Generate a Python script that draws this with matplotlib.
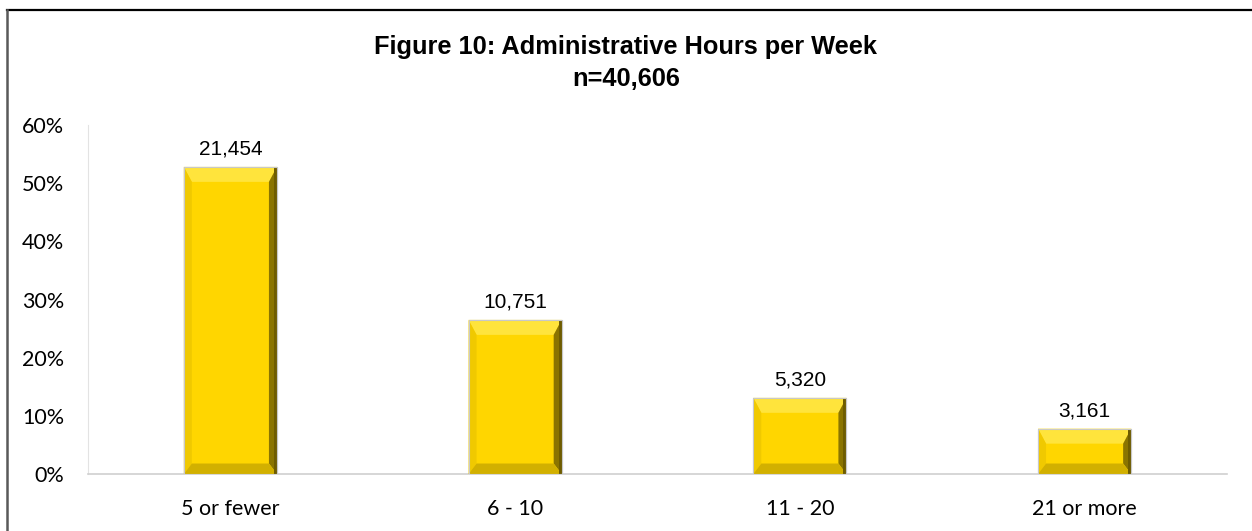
import numpy as np
import matplotlib.pyplot as plt
from matplotlib.patches import Polygon, Rectangle
from matplotlib.transforms import IdentityTransform

# --------------------------------------------------------------------------
# Data
# --------------------------------------------------------------------------
categories = ['5 or fewer', '6 - 10', '11 - 20', '21 or more']
counts = [21454, 10751, 5320, 3161]
shares = [52.8, 26.5, 13.1, 7.8]          # percent of respondents
yticks = [0, 10, 20, 30, 40, 50, 60]
title_line1 = 'Figure 10: Administrative Hours per Week'
title_line2 = 'n=40,606'

# --------------------------------------------------------------------------
# Figure
# --------------------------------------------------------------------------
fig = plt.figure(figsize=(12.52, 5.31), dpi=100)
ax = fig.add_axes([0.0703, 0.1073, 0.9097, 0.6573])

x = np.arange(len(categories))
bar_w = 0.327
face = '#FFD600'
bars = ax.bar(x, shares, width=bar_w, color=face, edgecolor='#C8C8C8',
              linewidth=0.8, zorder=2)

ax.set_xlim(-0.5, len(categories) - 0.5)
ax.set_ylim(0, 60)
ax.set_yticks(yticks)
ax.set_yticklabels([f'{t}%' for t in yticks], fontsize=15.5, family='Lato')
ax.set_xticks(x)
ax.set_xticklabels(categories, fontsize=15.5, family='Lato')
ax.tick_params(axis='y', length=0, pad=17)
ax.tick_params(axis='x', length=0, pad=18)
for s in ['top', 'right']:
    ax.spines[s].set_visible(False)
ax.spines['left'].set_color('#E3E3E3')
ax.spines['bottom'].set_color('#D0D0D0')
ax.spines['bottom'].set_linewidth(1.2)

# bevel effect drawn in pixel space around each bar
fig.canvas.draw()
bx, by = 8, 15   # bevel size in px
for b in bars:
    (x0, y0), (x1, y1) = ax.transData.transform(
        [(b.get_x(), 0), (b.get_x() + b.get_width(), b.get_height())])
    ix0, ix1, iy0, iy1 = x0 + bx, x1 - bx, y0 + by * 0.7, y1 - by
    pieces = [
        ([(x0, y1), (x1, y1), (ix1, iy1), (ix0, iy1)], '#FFE43C'),   # top
        ([(x1, y0), (x1, y1), (ix1, iy1), (ix1, iy0)], '#8A7400'),   # right
        ([(x0, y0), (x0, y1), (ix0, iy1), (ix0, iy0)], '#F0C900'),   # left
        ([(x0, y0), (x1, y0), (ix1, iy0), (ix0, iy0)], '#D2B000'),   # bottom
    ]
    for pts, c in pieces:
        ax.add_patch(Polygon(pts, closed=True, facecolor=c, edgecolor='none',
                             transform=IdentityTransform(), zorder=3))
    # thin darker outer strip on the right edge
    ax.add_patch(Rectangle((x1 - 3, y0), 3, y1 - y0, facecolor='#6E5C00',
                           edgecolor='none', transform=IdentityTransform(),
                           zorder=3))
    ax.add_patch(Rectangle((x0, y0), x1 - x0, y1 - y0, facecolor='none',
                           edgecolor='#C8C8C8', linewidth=0.8,
                           transform=IdentityTransform(), zorder=4))

for xi, s, n in zip(x, shares, counts):
    ax.annotate(f'{n:,}', (xi, s), xytext=(0, 6), textcoords='offset points',
                ha='center', va='bottom', fontsize=15,
                family='Liberation Sans')

fig.text(0.5, 0.898, title_line1, ha='center', va='baseline', fontsize=18.3,
         fontweight='bold', family='Liberation Sans')
fig.text(0.5, 0.838, title_line2, ha='center', va='baseline', fontsize=18.3,
         fontweight='bold', family='Liberation Sans')

# chart frame (top and left edges visible)
fig.add_artist(plt.Line2D([0.0056, 1.0], [0.982, 0.982], color='black',
                          linewidth=1.6, transform=fig.transFigure))
fig.add_artist(plt.Line2D([0.0056, 0.0056], [0.0, 0.982], color='#595959',
                          linewidth=1.8, transform=fig.transFigure))

fig.savefig('out.png', dpi=100)
